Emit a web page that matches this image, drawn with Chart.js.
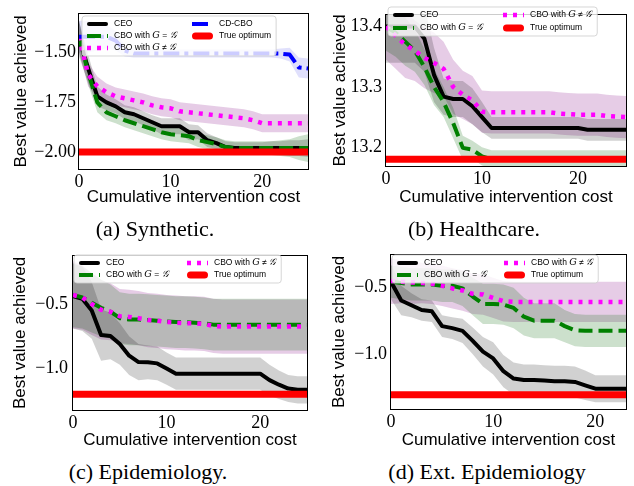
<!DOCTYPE html>
<html>
<head>
<meta charset="utf-8">
<script src="https://cdn.jsdelivr.net/npm/chart.js@4.4.0/dist/chart.umd.min.js"></script>
<style>
  body { margin: 0; background: #fff; width: 634px; height: 486px; position: relative; overflow: hidden; }
  canvas { position: absolute; }
  .cap { position: absolute; font-family: "Liberation Serif", serif; font-size: 22px; line-height: 24px;
         color: #000; white-space: nowrap; transform: translateX(-50%); }
</style>
</head>
<body>
<canvas id="chart-a" width="316" height="208" style="left:0;top:0"></canvas>
<canvas id="chart-b" width="318" height="208" style="left:316px;top:0"></canvas>
<canvas id="chart-c" width="316" height="211" style="left:0;top:240px"></canvas>
<canvas id="chart-d" width="318" height="211" style="left:316px;top:240px"></canvas>
<div class="cap" style="left:155px;top:217px">(a) Synthetic.</div>
<div class="cap" style="left:474px;top:217px">(b) Healthcare.</div>
<div class="cap" style="left:148px;top:460px">(c) Epidemiology.</div>
<div class="cap" style="left:487px;top:460px">(d) Ext. Epidemiology</div>

<script>
/* ---------- Data ---------- */
const X_TICKS = [0, 10, 20];

// (a) Synthetic
const COST_A = [0,1,2,3,4,5,6,7,8,9,10,11,12,13,14,15,16,17,18,19,20,21,22,23,24,25];
const CEO_A = [-1.43,-1.58,-1.72,-1.75,-1.77,-1.80,-1.81,-1.83,-1.85,-1.87,-1.87,-1.87,-1.90,-1.90,-1.94,-1.955,-1.975,-1.98,-1.98,-1.98,-1.98,-1.98,-1.98,-1.98,-1.98,-1.98];
const CEO_A_SD = [0.09,0.07,0.05,0.04,0.035,0.035,0.035,0.035,0.035,0.04,0.04,0.04,0.04,0.035,0.035,0.03,0.03,0.03,0.03,0.03,0.03,0.035,0.035,0.04,0.04,0.045];
const GEQ_A = [-1.42,-1.60,-1.75,-1.80,-1.82,-1.84,-1.855,-1.87,-1.885,-1.90,-1.91,-1.915,-1.92,-1.94,-1.95,-1.96,-1.975,-1.98,-1.98,-1.98,-1.98,-1.98,-1.98,-1.98,-1.98,-1.98];
const GEQ_A_SD = [0.08,0.06,0.05,0.04,0.035,0.035,0.035,0.035,0.035,0.035,0.035,0.035,0.035,0.035,0.035,0.035,0.035,0.035,0.035,0.035,0.035,0.035,0.04,0.045,0.06,0.07];
const GNE_A = [-1.42,-1.61,-1.67,-1.70,-1.72,-1.73,-1.74,-1.75,-1.765,-1.775,-1.78,-1.795,-1.80,-1.805,-1.81,-1.815,-1.82,-1.825,-1.83,-1.84,-1.855,-1.855,-1.855,-1.855,-1.855,-1.855];
const GNE_A_SD = [0.08,0.06,0.05,0.045,0.045,0.045,0.045,0.045,0.045,0.045,0.045,0.045,0.045,0.045,0.045,0.045,0.045,0.045,0.045,0.045,0.045,0.045,0.045,0.045,0.045,0.045];
const CD_A = [-1.42,-1.42,-1.42,-1.42,-1.44,-1.49,-1.505,-1.505,-1.505,-1.505,-1.505,-1.505,-1.505,-1.505,-1.505,-1.505,-1.505,-1.505,-1.505,-1.505,-1.505,-1.505,-1.505,-1.51,-1.575,-1.58];
const CD_A_SD = [0.08,0.08,0.07,0.06,0.05,0.03,0.02,0.02,0.02,0.02,0.02,0.02,0.02,0.02,0.02,0.02,0.02,0.02,0.02,0.02,0.02,0.02,0.025,0.035,0.05,0.05];
const OPT_A = -2.0;
const Y_TICKS_A = [-2.0, -1.75, -1.5];

// (b) Healthcare
const COST_B = [0,1,2,3,4,5,6,7,8,9,10,11,12,13,14,15,16,17,18,19,20,21,22,23,24,25];
const CEO_B = [13.40,13.40,13.40,13.40,13.38,13.32,13.284,13.28,13.28,13.268,13.25,13.232,13.232,13.232,13.232,13.232,13.232,13.232,13.232,13.232,13.232,13.229,13.229,13.229,13.229,13.229];
const CEO_B_SD = [0.06,0.06,0.06,0.06,0.055,0.045,0.03,0.03,0.03,0.03,0.025,0.018,0.018,0.018,0.018,0.018,0.018,0.018,0.018,0.018,0.018,0.018,0.018,0.018,0.018,0.018];
const GEQ_B = [13.40,13.39,13.375,13.36,13.333,13.30,13.275,13.24,13.199,13.196,13.185,13.18,13.18,13.18,13.18,13.18,13.18,13.18,13.18,13.18,13.18,13.18,13.18,13.18,13.18,13.18];
const GEQ_B_SD = [0.04,0.04,0.04,0.035,0.03,0.03,0.025,0.025,0.02,0.015,0.015,0.015,0.015,0.015,0.015,0.015,0.015,0.015,0.015,0.015,0.015,0.015,0.015,0.015,0.015,0.015];
const GNE_B = [13.40,13.385,13.37,13.36,13.348,13.34,13.33,13.30,13.287,13.278,13.259,13.258,13.258,13.258,13.258,13.258,13.258,13.258,13.256,13.255,13.254,13.254,13.254,13.252,13.251,13.25];
const GNE_B_SD = [0.055,0.055,0.055,0.05,0.05,0.05,0.045,0.045,0.04,0.04,0.035,0.035,0.035,0.035,0.035,0.035,0.035,0.035,0.035,0.035,0.035,0.035,0.035,0.035,0.035,0.035];
const OPT_B = 13.18;
const Y_TICKS_B = [13.2, 13.3, 13.4];

// (c) Epidemiology
const COST_C = [0,1,2,3,4,5,6,7,8,9,10,11,12,13,14,15,16,17,18,19,20,21,22,23,24,25];
const CEO_C = [-0.44,-0.46,-0.55,-0.74,-0.748,-0.81,-0.90,-0.95,-0.952,-0.96,-1.00,-1.04,-1.04,-1.04,-1.04,-1.04,-1.04,-1.04,-1.04,-1.04,-1.04,-1.09,-1.125,-1.155,-1.165,-1.165];
const CEO_C_SD = [0.25,0.25,0.22,0.2,0.18,0.16,0.15,0.14,0.13,0.13,0.125,0.125,0.125,0.125,0.125,0.125,0.125,0.125,0.125,0.125,0.125,0.12,0.11,0.105,0.105,0.105];
const GEQ_C = [-0.43,-0.45,-0.49,-0.53,-0.56,-0.61,-0.62,-0.62,-0.625,-0.63,-0.635,-0.64,-0.64,-0.645,-0.65,-0.66,-0.66,-0.66,-0.66,-0.66,-0.66,-0.66,-0.66,-0.66,-0.66,-0.66];
const GEQ_C_SD = [0.25,0.24,0.23,0.22,0.21,0.2,0.2,0.2,0.2,0.2,0.2,0.2,0.2,0.2,0.2,0.2,0.2,0.2,0.2,0.2,0.2,0.2,0.2,0.2,0.2,0.2];
const GNE_C = [-0.43,-0.45,-0.50,-0.545,-0.56,-0.595,-0.60,-0.61,-0.625,-0.63,-0.64,-0.645,-0.65,-0.65,-0.655,-0.67,-0.675,-0.675,-0.675,-0.675,-0.675,-0.675,-0.675,-0.675,-0.675,-0.675];
const GNE_C_SD = [0.26,0.25,0.24,0.23,0.22,0.21,0.21,0.21,0.21,0.21,0.21,0.21,0.21,0.21,0.21,0.21,0.21,0.21,0.21,0.21,0.21,0.21,0.21,0.21,0.21,0.21];
const OPT_C = -1.2;
const Y_TICKS_C = [-1.0, -0.5];

// (d) Ext. Epidemiology
const COST_D = [0,1,2,3,4,5,6,7,8,9,10,11,12,13,14,15,16,17,18,19,20,21,22,23];
const CEO_D = [-0.46,-0.60,-0.635,-0.67,-0.68,-0.79,-0.805,-0.825,-0.90,-0.98,-1.03,-1.125,-1.18,-1.19,-1.19,-1.195,-1.20,-1.20,-1.205,-1.23,-1.255,-1.255,-1.255,-1.255];
const CEO_D_SD = [0.13,0.11,0.09,0.08,0.08,0.08,0.08,0.09,0.1,0.11,0.12,0.12,0.12,0.115,0.115,0.115,0.115,0.115,0.115,0.11,0.1,0.1,0.1,0.1];
const GEQ_D = [-0.46,-0.47,-0.48,-0.48,-0.48,-0.49,-0.49,-0.51,-0.57,-0.625,-0.625,-0.63,-0.655,-0.72,-0.75,-0.75,-0.75,-0.79,-0.82,-0.825,-0.825,-0.825,-0.825,-0.825];
const GEQ_D_SD = [0.12,0.12,0.12,0.12,0.12,0.12,0.12,0.13,0.14,0.15,0.15,0.15,0.15,0.14,0.13,0.13,0.13,0.12,0.12,0.12,0.12,0.12,0.12,0.12];
const GNE_D = [-0.455,-0.46,-0.465,-0.47,-0.475,-0.49,-0.51,-0.525,-0.55,-0.555,-0.58,-0.605,-0.61,-0.61,-0.61,-0.61,-0.61,-0.61,-0.61,-0.61,-0.61,-0.61,-0.61,-0.61];
const GNE_D_SD = [0.17,0.16,0.16,0.15,0.15,0.15,0.15,0.15,0.15,0.15,0.15,0.15,0.15,0.15,0.15,0.15,0.15,0.15,0.15,0.15,0.15,0.15,0.15,0.15];
const OPT_D = -1.3;
const Y_TICKS_D = [-1.0, -0.5];

const LABELS = {
    ceo: 'CEO',
    geq: 'CBO with $G$ = $\u{1D4A2}$',
    gne: 'CBO with $G$ \u2260 $\u{1D4A2}$',
    cd: 'CD-CBO',
    opt: 'True optimum'
};

/* ---------- Styles ---------- */
const STYLE = {
    ceo: { color: '#000000', width: 4, dash: [], band: 'rgba(0, 0, 0, 0.18)', order: 5 },
    geq: { color: '#008000', width: 4, dash: [14, 6], band: 'rgba(0, 100, 0, 0.2)', order: 4 },
    gne: { color: '#ff00ff', width: 4.5, dash: [4, 6], band: 'rgba(128, 0, 128, 0.2)', order: 3 },
    cd:  { color: '#0000ff', width: 4, dash: [16, 5, 4, 5], band: 'rgba(0, 0, 230, 0.12)', order: 2 },
    opt: { color: '#ff0000', width: 7, dash: [], order: 1 }
};
const TICK_FONT = { family: '"Liberation Serif", serif', size: 18 };
const TITLE_FONT = { family: '"Liberation Sans", sans-serif', size: 17 };
const LEG_FONT = '8.5px "Liberation Sans", sans-serif';
const MATH_FONT = 'italic 9.5px "DejaVu Serif", serif';
const HANDLE_LEN = 21;
const HANDLE_GAP = 6;

/* ---------- Helpers ---------- */
function fmt(v, d) {
    return (v < 0 ? '\u2212' : '') + Math.abs(v).toFixed(d);
}

function series(key, xs, ys, sd) {
    const st = STYLE[key];
    const pts = arr => xs.map((x, i) => ({ x: x, y: arr[i] }));
    return [
        { data: pts(ys.map((v, i) => v - sd[i])), borderWidth: 0, pointRadius: 0, fill: false, order: 20 },
        { data: pts(ys.map((v, i) => v + sd[i])), borderWidth: 0, pointRadius: 0, fill: '-1',
          backgroundColor: st.band, order: 20 },
        { label: LABELS[key], data: pts(ys), borderColor: st.color, borderWidth: st.width,
          borderDash: st.dash, borderCapStyle: 'butt', borderJoinStyle: 'round',
          pointRadius: 0, fill: false, order: st.order, tension: 0 }
    ];
}

function optimum(value, xMin, xMax) {
    const st = STYLE.opt;
    return { label: LABELS.opt, data: [{ x: xMin, y: value }, { x: xMax, y: value }],
             borderColor: st.color, borderWidth: st.width, borderDash: [], borderCapStyle: 'butt',
             pointRadius: 0, fill: false, order: st.order };
}

function textParts(label) {
    return label.split('$').map((t, i) => ({ t: t, math: i % 2 === 1 }));
}

function partsWidth(ctx, parts) {
    let w = 0;
    parts.forEach(p => { ctx.font = p.math ? MATH_FONT : LEG_FONT; w += ctx.measureText(p.t).width; });
    return w;
}

/* ---------- Plugins ---------- */
const framePlugin = {
    id: 'frame',
    afterDatasetsDraw(chart) {
        const a = chart.chartArea, ctx = chart.ctx;
        ctx.save();
        ctx.strokeStyle = '#000';
        ctx.lineWidth = 1;
        ctx.strokeRect(Math.round(a.left) - 0.5, Math.round(a.top) - 0.5,
                       Math.round(a.right - a.left) + 1, Math.round(a.bottom - a.top) + 1);
        ctx.restore();
    }
};

const legendPlugin = {
    id: 'insideLegend',
    afterDraw(chart, args, opts) {
        if (!opts || !opts.cols) return;
        const ctx = chart.ctx;
        const find = label => chart.data.datasets.find(d => d.label === label);
        ctx.save();
        let right = 0;
        opts.cols.forEach((col, ci) => col.forEach(key => {
            const w = partsWidth(ctx, textParts(LABELS[key]));
            right = Math.max(right, opts.x[ci] + HANDLE_LEN + HANDLE_GAP + w);
        }));
        const rows = Math.max(...opts.cols.map(c => c.length));
        const left = opts.x[0] - 5, top = opts.y - 8;
        const bottom = opts.y + (rows - 1) * opts.dy + 8;
        ctx.beginPath();
        ctx.roundRect(left, top, right + 5 - left, bottom - top, 3);
        ctx.fillStyle = 'rgba(255, 255, 255, 0.8)';
        ctx.fill();
        ctx.strokeStyle = 'rgba(204, 204, 204, 0.8)';
        ctx.lineWidth = 1;
        ctx.stroke();

        opts.cols.forEach((col, ci) => col.forEach((key, ri) => {
            const ds = find(LABELS[key]);
            const x = opts.x[ci], y = opts.y + ri * opts.dy;
            ctx.beginPath();
            ctx.strokeStyle = ds.borderColor;
            ctx.lineWidth = ds.borderWidth;
            const dash = ds.borderDash || [];
            ctx.setLineDash(dash);
            ctx.lineCap = dash.length ? 'butt' : 'round';
            const inset = dash.length ? 0 : ds.borderWidth / 2;
            ctx.moveTo(x + inset, y);
            ctx.lineTo(x + HANDLE_LEN - inset, y);
            ctx.stroke();
            ctx.setLineDash([]);
            let tx = x + HANDLE_LEN + HANDLE_GAP;
            ctx.fillStyle = '#000';
            ctx.textBaseline = 'middle';
            textParts(LABELS[key]).forEach(p => {
                ctx.font = p.math ? MATH_FONT : LEG_FONT;
                ctx.fillText(p.t, tx, y);
                tx += ctx.measureText(p.t).width;
            });
        }));
        ctx.restore();
    }
};

/* ---------- Panel builder ---------- */
function makePanel(id, cfg) {
    const L = cfg.layout;
    return new Chart(document.getElementById(id), {
        type: 'line',
        data: { datasets: cfg.datasets },
        plugins: [framePlugin, legendPlugin],
        options: {
            animation: false,
            responsive: false,
            events: [],
            layout: { padding: { left: L.padLeft, top: L.padTop, right: L.padRight, bottom: 0 } },
            plugins: {
                legend: { display: false },
                tooltip: { enabled: false },
                insideLegend: cfg.legend
            },
            scales: {
                x: {
                    type: 'linear', min: cfg.xMin, max: cfg.xMax,
                    grid: { display: false, drawTicks: false },
                    border: { display: false },
                    ticks: { font: TICK_FONT, color: '#000', padding: L.xTickPad, autoSkip: false, maxRotation: 0,
                             callback: v => fmt(v, 0) },
                    afterBuildTicks: s => { s.ticks = X_TICKS.map(v => ({ value: v })); },
                    afterFit: s => { s.height = L.xAxisH; },
                    title: { display: true, text: 'Cumulative intervention cost', font: TITLE_FONT,
                             color: '#000', padding: 0 }
                },
                y: {
                    type: 'linear', min: cfg.yMin, max: cfg.yMax,
                    grid: { display: false, drawTicks: false },
                    border: { display: false },
                    ticks: { font: TICK_FONT, color: '#000', padding: L.yTickPad, autoSkip: false,
                             callback: v => fmt(v, cfg.yDec) },
                    afterBuildTicks: s => { s.ticks = cfg.yTicks.map(v => ({ value: v })); },
                    afterFit: s => { s.width = L.yAxisW; },
                    title: { display: true, text: 'Best value achieved', font: TITLE_FONT,
                             color: '#000', padding: 0 }
                }
            }
        }
    });
}

makePanel('chart-a', {
    xMin: 0, xMax: 25, yMin: -2.085, yMax: -1.305, yTicks: Y_TICKS_A, yDec: 2,
    layout: { padLeft: 11, yAxisW: 68, padTop: 13, padRight: 8, xAxisH: 39, xTickPad: 2, yTickPad: 3 },
    datasets: [].concat(
        series('ceo', COST_A, CEO_A, CEO_A_SD),
        series('geq', COST_A, GEQ_A, GEQ_A_SD),
        series('gne', COST_A, GNE_A, GNE_A_SD),
        series('cd', COST_A, CD_A, CD_A_SD),
        [optimum(OPT_A, 0, 25)]
    ),
    legend: { cols: [['ceo', 'geq', 'gne'], ['cd', 'opt']], x: [87, 192], y: 24, dy: 12 }
});

makePanel('chart-b', {
    xMin: 0, xMax: 25, yMin: 13.169, yMax: 13.4195, yTicks: Y_TICKS_B, yDec: 1,
    layout: { padLeft: 14, yAxisW: 56, padTop: 3, padRight: 8, xAxisH: 42, xTickPad: 2, yTickPad: 4 },
    datasets: [].concat(
        series('ceo', COST_B, CEO_B, CEO_B_SD),
        series('geq', COST_B, GEQ_B, GEQ_B_SD),
        series('gne', COST_B, GNE_B, GNE_B_SD),
        [optimum(OPT_B, 0, 25)]
    ),
    legend: { cols: [['ceo', 'geq'], ['gne', 'opt']], x: [77, 187], y: 15, dy: 13 }
});

makePanel('chart-c', {
    xMin: 0, xMax: 25, yMin: -1.321, yMax: -0.127, yTicks: Y_TICKS_C, yDec: 1,
    layout: { padLeft: 10, yAxisW: 63, padTop: 10, padRight: 9, xAxisH: 41, xTickPad: 2, yTickPad: 5 },
    datasets: [].concat(
        series('ceo', COST_C, CEO_C, CEO_C_SD),
        series('geq', COST_C, GEQ_C, GEQ_C_SD),
        series('gne', COST_C, GNE_C, GNE_C_SD),
        [optimum(OPT_C, 0, 25)]
    ),
    legend: { cols: [['ceo', 'geq'], ['gne', 'opt']], x: [79, 187], y: 23, dy: 12 }
});

makePanel('chart-d', {
    xMin: 0, xMax: 23, yMin: -1.406, yMax: -0.26, yTicks: Y_TICKS_D, yDec: 1,
    layout: { padLeft: 13, yAxisW: 62, padTop: 10, padRight: 8, xAxisH: 42, xTickPad: 2, yTickPad: 4 },
    datasets: [].concat(
        series('ceo', COST_D, CEO_D, CEO_D_SD),
        series('geq', COST_D, GEQ_D, GEQ_D_SD),
        series('gne', COST_D, GNE_D, GNE_D_SD),
        [optimum(OPT_D, 0, 23)]
    ),
    legend: { cols: [['ceo', 'geq'], ['gne', 'opt']], x: [81, 188], y: 23, dy: 12 }
});
</script>
</body>
</html>
